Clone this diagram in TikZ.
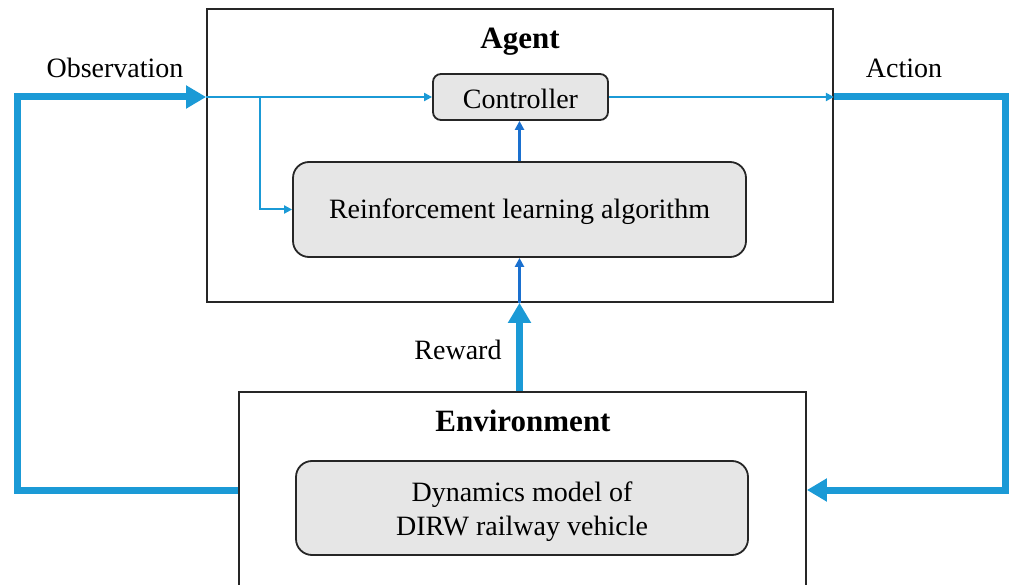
\documentclass[tikz,border=0pt]{standalone}
\usepackage{fontspec}
\setmainfont{Liberation Serif}
\usetikzlibrary{arrows.meta,calc}
\definecolor{fblue}{HTML}{1B9AD6}
\definecolor{dblue}{HTML}{1A70CF}
\definecolor{boxgray}{HTML}{E6E6E6}
\tikzset{
  frame/.style={draw=black!85,line width=1.8pt,inner sep=0pt},
  rbox/.style={draw=black!85,line width=1.8pt,fill=boxgray,inner sep=0pt,align=center,font=\fontsize{28}{34}\selectfont},
  lbl/.style={font=\fontsize{28}{34}\selectfont,inner sep=0pt},
  ttl/.style={font=\fontsize{31}{36}\selectfont\bfseries,inner sep=0pt},
  thickarr/.style={draw=fblue,line width=7pt,-{Triangle[length=20pt,width=22pt]}},
  thinarr/.style={draw=fblue,line width=2pt,-{Triangle[length=8pt,width=8pt]}},
  darkarr/.style={draw=dblue,line width=2.4pt,-{Triangle[length=9pt,width=9pt]}}
}
\begin{document}
\begin{tikzpicture}[x=1pt,y=-1pt]
\clip (0,0) rectangle (1009,585);
\useasboundingbox (0,0) rectangle (1009,585);
\node[frame,minimum width=626pt,minimum height=293pt] (agent) at (520,155.5) {};
\node[frame,minimum width=567pt,minimum height=208pt] (env) at (522.5,496) {};
\node[rbox,rounded corners=8pt,minimum width=175pt,minimum height=46pt,text height=24pt,text depth=0pt] (ctrl) at (520.5,97) {Controller};
\node[rbox,rounded corners=16pt,minimum width=453pt,minimum height=95pt,text height=25pt,text depth=6pt] (rl) at (519.5,209.5) {Reinforcement learning algorithm};
\node[rbox,rounded corners=16pt,minimum width=452pt,minimum height=94pt] (dyn) at (522,508) {\rule{0pt}{27pt}Dynamics model of\\DIRW railway vehicle};
\node[ttl] (tagent) at (520,42) {Agent};
\node[ttl] (tenv) at (523,421) {Environment};
\node[lbl] (tobs) at (115,68) {Observation};
\node[lbl] (tact) at (904,68) {Action};
\node[lbl] (trew) at (458,350) {Reward};
\coordinate (envw) at (env.west |- 0,490);
\coordinate (envE) at (env.east |- 0,490);
\coordinate (agw) at (agent.west |- ctrl);
\coordinate (age) at (agent.east |- ctrl);
\draw[thickarr] (envw) -- (17,490) |- (agw);
\draw[thinarr] (agw) -- (ctrl.west);
\draw[thinarr] (agw -| 260,0) |- (rl.west);
\draw[thinarr] (ctrl.east) -- (age);
\draw[thickarr] (age) -- (1005.5,97) |- (envE);
\draw[darkarr] (rl.north) -- (rl.north |- ctrl.south);
\coordinate (rwTop) at (agent.south -| rl.north);
\draw[thickarr] (env.north -| rl.north) -- (rwTop);
\draw[darkarr] (rwTop) -- (rl.south);
\end{tikzpicture}
\end{document}
